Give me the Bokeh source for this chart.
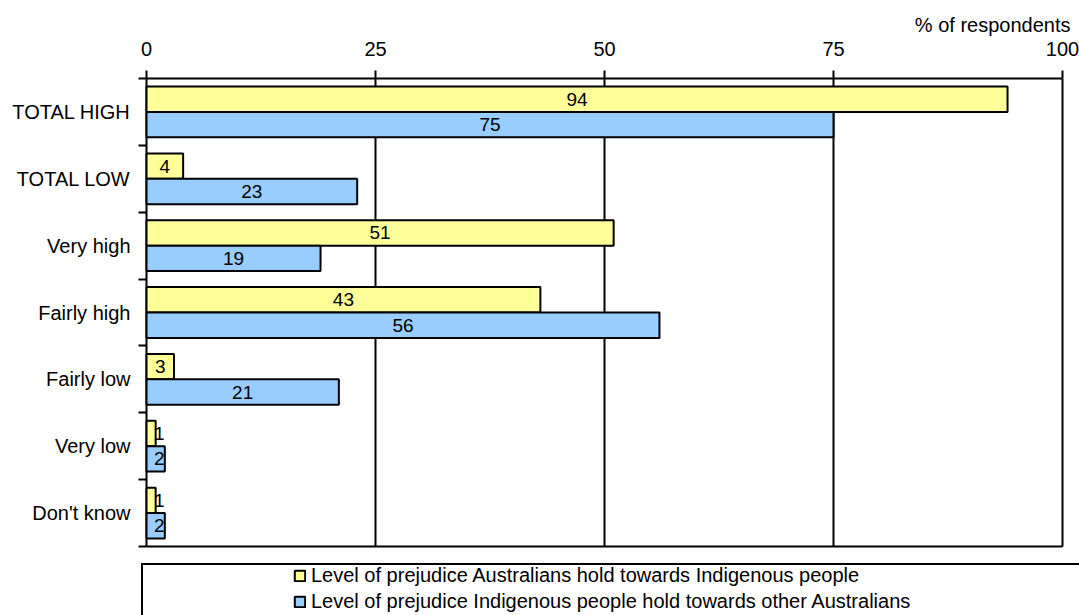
from bokeh.plotting import figure
from bokeh.models import Range1d, FixedTicker, Legend, LegendItem, ColumnDataSource
from bokeh.core.properties import value
from bokeh.embed import file_html
from bokeh.resources import INLINE
import numpy as np

# ---- data ----
categories = ["TOTAL HIGH", "TOTAL LOW", "Very high", "Fairly high", "Fairly low", "Very low", "Don't know"]
australians = [94, 4, 51, 43, 3, 1, 1]
indigenous = [75, 23, 19, 56, 21, 2, 2]
x_ticks = [0, 25, 50, 75, 100]
series_names = [
    "Level of prejudice Australians hold towards Indigenous people",
    "Level of prejudice Indigenous people hold towards other Australians",
]
colors = ["#FFFF99", "#99CCFF"]
axis_title = "% of respondents"

# ---- layout (pixels) ----
W, H = 1079, 615
FL, FT = 138, 78              # frame left / top
X0, X100 = 146, 1062          # pixel of 0 and 100
CAT_BOTTOM = 546              # pixel of bottom category boundary
FONT = "Liberation Sans"
FS = "20px"
n = len(categories)
idx = np.arange(n)
off = 0.19
bh = 0.38

pxu = (X100 - X0) / (x_ticks[-1] - x_ticks[0])
x_start = x_ticks[0] - (X0 - FL) / pxu
x_end = x_ticks[-1] + (W - X100) / pxu
pyu = (CAT_BOTTOM - FT) / n
y_end_total = (H - FT) / pyu

p = figure(width=W, height=H, x_range=Range1d(x_start, x_end), y_range=Range1d(y_end_total, 0),
           x_axis_location="above", output_backend="svg", toolbar_location=None,
           min_border_left=FL, min_border_right=0, min_border_top=FT, min_border_bottom=0)

p.title.text = axis_title
p.title.align = "right"
p.title.offset = 9
p.title.text_font = FONT
p.title.text_font_size = FS
p.title.text_font_style = "normal"
p.title.text_color = "black"
p.title.standoff = 6

# top x axis
xa = p.xaxis[0]
xa.ticker = FixedTicker(ticks=x_ticks, minor_ticks=[])
xa.bounds = (x_ticks[0], x_ticks[-1])
xa.axis_line_width = 2
xa.axis_line_color = "black"
xa.major_tick_line_width = 2
xa.major_tick_line_color = "black"
xa.major_tick_out = 8
xa.major_tick_in = 0
xa.minor_tick_line_color = None
xa.major_label_text_font = FONT
xa.major_label_text_font_size = FS
xa.major_label_text_color = "black"
xa.major_label_standoff = 15

# left y axis: labels at centres, tick marks at boundaries
ya = p.yaxis[0]
ya.ticker = FixedTicker(ticks=[float(i) + 0.5 for i in idx], minor_ticks=[float(i) for i in range(n + 1)])
ya.major_label_overrides = {float(i) + 0.5: c for i, c in zip(idx, categories)}
ya.bounds = (0, n)
ya.axis_line_color = None
ya.major_tick_line_color = None
ya.major_tick_out = 0
ya.major_tick_in = 0
ya.minor_tick_line_color = "black"
ya.minor_tick_line_width = 2
ya.minor_tick_out = 0
ya.minor_tick_in = X0 - FL
ya.major_label_text_font = FONT
ya.major_label_text_font_size = FS
ya.major_label_text_color = "black"
ya.major_label_standoff = 8

p.xgrid.grid_line_color = None
p.ygrid.grid_line_color = None
p.outline_line_color = None

# gridlines at the x ticks (0 line = axis line, 100 line = right border) and the bottom border
nt = len(x_ticks)
p.segment(x0=x_ticks, y0=[0] * nt, x1=x_ticks, y1=[n] * nt, line_color="black", line_width=2)
p.segment(x0=[x_ticks[0]], y0=[n], x1=[x_ticks[-1]], y1=[n], line_color="black", line_width=2)

src = ColumnDataSource(dict(
    y1=idx + 0.5 - off, y2=idx + 0.5 + off,
    a=australians, b=indigenous,
    ta=[str(v) for v in australians], tb=[str(v) for v in indigenous],
    xa=np.maximum(np.array(australians) / 2, 1.4), xb=np.maximum(np.array(indigenous) / 2, 1.4),
))

r1 = p.hbar(y="y1", left=0, right="a", height=bh, fill_color=colors[0], line_color="black", line_width=2, source=src)
r2 = p.hbar(y="y2", left=0, right="b", height=bh, fill_color=colors[1], line_color="black", line_width=2, source=src)

for xc, yc, tc in (("xa", "y1", "ta"), ("xb", "y2", "tb")):
    p.text(x=xc, y=yc, text=tc, source=src, text_align="center", text_baseline="middle",
           text_font=value(FONT), text_font_size="19px", text_color="black")

# legend frame (box only)
dummy = p.scatter(x=[], y=[], fill_alpha=0, line_alpha=0)
box = Legend(items=[LegendItem(label=" ", renderers=[dummy])], location=(3, -22),
             padding=10, glyph_width=10, glyph_height=10, label_standoff=0, label_width=930,
             label_height=50, label_text_alpha=0, border_line_color="black", border_line_width=2,
             border_line_alpha=1, background_fill_color="white", background_fill_alpha=1, margin=0)
p.add_layout(box, "center")

leg = Legend(items=[LegendItem(label=series_names[0], renderers=[r1]),
                    LegendItem(label=series_names[1], renderers=[r2])],
             location=(155, 2), padding=0, margin=0, spacing=3,
             glyph_width=13, glyph_height=13, label_standoff=5, label_height=23,
             label_text_font=FONT, label_text_font_size=FS, label_text_color="black",
             border_line_color=None, background_fill_alpha=0)
p.add_layout(leg, "center")

open("out.html", "w").write(file_html(p, INLINE))
